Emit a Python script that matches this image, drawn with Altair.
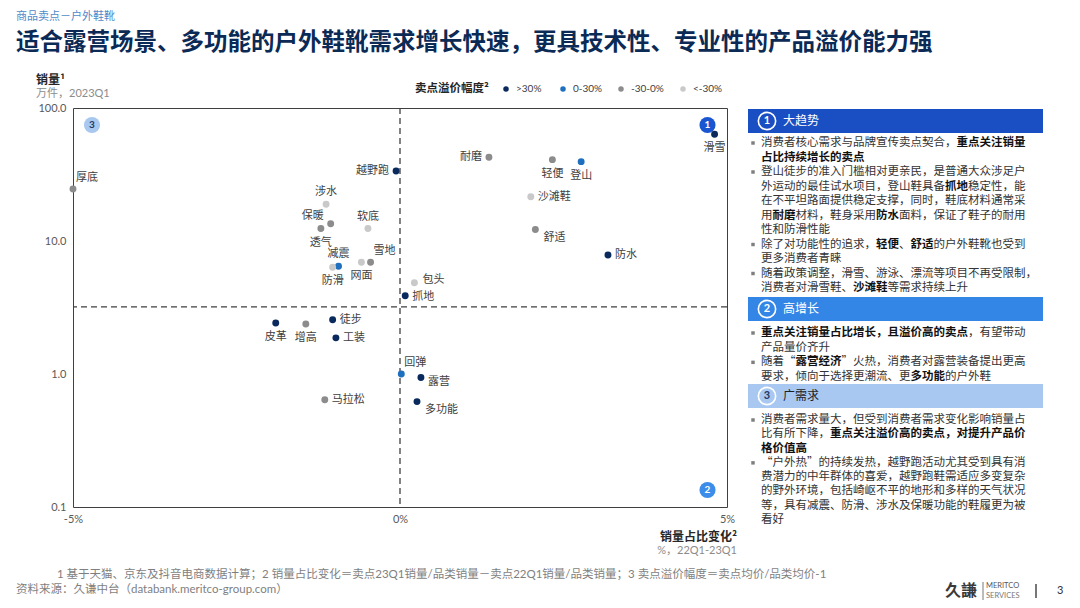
import altair as alt
import pandas as pd

# ------------------------------------------------------------------ data
features = ["滑雪", "厚底", "越野跑", "涉水", "保暖", "透气", "软底", "减震", "防滑",
            "网面", "雪地", "耐磨", "轻便", "登山", "沙滩鞋", "舒适", "防水", "包头",
            "抓地", "皮革", "增高", "徒步", "工装", "马拉松", "回弹", "露营", "多功能"]
share_change = [4.81, -5.0, -0.06, -1.13, -1.06, -1.21, -0.49, -0.94, -1.03,
                -0.59, -0.45, 1.36, 2.33, 2.77, 2.00, 2.07, 3.18, 0.22,
                0.08, -1.90, -1.44, -1.03, -0.98, -1.15, 0.02, 0.32, 0.26]
sales = [63.4, 24.6, 33.6, 18.9, 13.5, 12.4, 12.4, 6.45, 6.34,
         6.92, 6.92, 42.6, 40.9, 39.5, 21.5, 12.2, 7.85, 4.86,
         3.88, 2.42, 2.38, 2.56, 1.87, 0.64, 1.0, 0.94, 0.62]
premium = [">30%", "-30-0%", ">30%", "<-30%", "-30-0%", "-30-0%", "<-30%", "0-30%", "<-30%",
           "<-30%", "-30-0%", "-30-0%", "-30-0%", "0-30%", "<-30%", "-30-0%", ">30%", "<-30%",
           ">30%", ">30%", "-30-0%", ">30%", ">30%", "-30-0%", "0-30%", ">30%", ">30%"]
label_pos = ["b", "tr", "l", "t", "tl", "b", "t", "t", "b",
             "b", "tr", "l", "b", "b", "r", "br", "r", "ru",
             "rd", "b", "b", "r", "r", "r", "tr", "rb", "br"]

premium_levels = [">30%", "0-30%", "-30-0%", "<-30%"]
premium_colors = ["#0A2A5E", "#1F6FBF", "#8C8C8C", "#C9C9C9"]

x_domain = [-5, 5]
y_domain = [0.1, 100]
x_ticks = [-5, 0, 5]
y_ticks = [0.1, 1, 10, 100]
vline_x = [0]
hline_y = [3.2]

subtitle = "商品卖点－户外鞋靴"
title = "适合露营场景、多功能的户外鞋靴需求增长快速，更具技术性、专业性的产品溢价能力强"
y_title = "销量¹"
y_unit = "万件，2023Q1"
x_title = "销量占比变化²"
x_unit = "%，22Q1-23Q1"
legend_title = "卖点溢价幅度²"
footnote = "1  基于天猫、京东及抖音电商数据计算；2  销量占比变化＝卖点23Q1销量/品类销量－卖点22Q1销量/品类销量；3  卖点溢价幅度＝卖点均价/品类均价-1"
source = "资料来源：久谦中台（databank.meritco-group.com）"

badge_labels = ["1", "2", "3"]
header_titles = ["大趋势", "高增长", "广需求"]
panel1 = [
    ("消费者核心需求与品牌宣传卖点契合，**重点关注销量**", True),
    ("**占比持续增长的卖点**", False),
    ("登山徒步的准入门槛相对更亲民，是普通大众涉足户", True),
    ("外运动的最佳试水项目，登山鞋具备**抓地**稳定性，能", False),
    ("在不平坦路面提供稳定支撑，同时，鞋底材料通常采", False),
    ("用**耐磨**材料，鞋身采用**防水**面料，保证了鞋子的耐用", False),
    ("性和防滑性能", False),
    ("除了对功能性的追求，**轻便**、**舒适**的户外鞋靴也受到", True),
    ("更多消费者青睐", False),
    ("随着政策调整，滑雪、游泳、漂流等项目不再受限制，", True),
    ("消费者对滑雪鞋、**沙滩鞋**等需求持续上升", False),
]
panel2 = [
    ("**重点关注销量占比增长，且溢价高的卖点**，有望带动", True),
    ("产品量价齐升", False),
    ("随着“**露营经济**”火热，消费者对露营装备提出更高", True),
    ("要求，倾向于选择更潮流、更**多功能**的户外鞋", False),
]
panel3 = [
    ("消费者需求量大，但受到消费者需求变化影响销量占", True),
    ("比有所下降，**重点关注溢价高的卖点，对提升产品价**", False),
    ("**格价值高**", False),
    ("“户外热”的持续发热，越野跑活动尤其受到具有消", True),
    ("费潜力的中年群体的喜爱，越野跑鞋需适应多变复杂", False),
    ("的野外环境，包括崎岖不平的地形和多样的天气状况", False),
    ("等，具有减震、防滑、涉水及保暖功能的鞋履更为被", False),
    ("看好", False),
]

# ------------------------------------------------------------------ layout
W, H = 654, 399
OX, OY = 73, 108          # plot origin on the page
FONT = "'Noto Sans CJK SC', sans-serif"
LFONT = "Lato, 'Noto Sans CJK SC', sans-serif"

df = pd.DataFrame({"feature": features, "change": share_change, "sales": sales,
                   "premium": premium, "pos": label_pos})

xs = alt.Scale(domain=x_domain, nice=False, zero=False)
ys = alt.Scale(type="log", domain=y_domain, nice=False)

PX = alt.X("px:Q", scale=None, axis=None)
PY = alt.Y("py:Q", scale=None, axis=None)


def pix(rows):
    return pd.DataFrame([{"px": x - OX, "py": y - OY, "t": t} for x, y, t in rows])


def text_layer(rows, size, color, weight="normal", align="left", font=FONT):
    return alt.Chart(pix(rows)).mark_text(
        fontSize=size, color=color, fontWeight=weight, align=align,
        baseline="middle", font=font
    ).encode(x=PX, y=PY, text="t:N")


layers = []

# dashed quadrant lines
dash = dict(color="#3F3F3F", strokeWidth=1.3, strokeDash=[6, 4])
layers.append(alt.Chart(pd.DataFrame({"v": vline_x})).mark_rule(**dash).encode(
    x=alt.X("v:Q", scale=xs, axis=None)))
layers.append(alt.Chart(pd.DataFrame({"h": hline_y})).mark_rule(**dash).encode(
    y=alt.Y("h:Q", scale=ys, axis=None)))

# quadrant badges
badges = pix([(707.5, 125, badge_labels[0]), (707.5, 490, badge_labels[1]), (92, 125, badge_labels[2])])
badges["c"] = ["#1A56CF", "#3B8DE9", "#A9C8F0"]
badges["tc"] = ["#FFFFFF", "#FFFFFF", "#1F3864"]
layers.append(alt.Chart(badges).mark_circle(size=260, opacity=1).encode(
    x=PX, y=PY, color=alt.Color("c:N", scale=None)))
layers.append(alt.Chart(badges).mark_text(fontSize=10, fontWeight="bold", font=LFONT, baseline="middle").encode(
    x=PX, y=PY, text="t:N", color=alt.Color("tc:N", scale=None)))

# scatter points
layers.append(alt.Chart(df).mark_circle(size=48, opacity=1).encode(
    x=alt.X("change:Q", scale=xs, title=None,
            axis=alt.Axis(values=x_ticks, labelExpr="datum.value + '%'", labelFlush=False, labelPadding=6)),
    y=alt.Y("sales:Q", scale=ys, title=None,
            axis=alt.Axis(values=y_ticks, format=".1f", labelPadding=7)),
    color=alt.Color("premium:N", scale=alt.Scale(domain=premium_levels, range=premium_colors), legend=None),
    tooltip=["feature:N", "change:Q", "sales:Q", "premium:N"],
))

# point labels
LABEL_STYLE = {
    "r": dict(align="left", dx=7, dy=0),
    "ru": dict(align="left", dx=8, dy=-3),
    "rd": dict(align="left", dx=7, dy=1),
    "l": dict(align="right", dx=-7, dy=0),
    "t": dict(align="center", dx=0, dy=-12),
    "b": dict(align="center", dx=0, dy=14),
    "tl": dict(align="right", dx=-7, dy=-8),
    "tr": dict(align="left", dx=3, dy=-11),
    "br": dict(align="left", dx=8, dy=8),
    "rb": dict(align="left", dx=7, dy=4),
}
for code, st in LABEL_STYLE.items():
    layers.append(alt.Chart(df).transform_filter(alt.datum.pos == code).mark_text(
        fontSize=11, color="#404040", font=FONT, baseline="middle", **st
    ).encode(x=alt.X("change:Q", scale=xs, axis=None),
             y=alt.Y("sales:Q", scale=ys, axis=None),
             text="feature:N"))

# titles
layers.append(text_layer([(16, 17, subtitle)], 11, "#4F8AC9"))
layers.append(text_layer([(16, 42.5, title)], 23.5, "#0B2A55", weight="bold"))
layers.append(text_layer([(36, 80, y_title)], 12, "#262626", weight="bold"))
layers.append(text_layer([(36, 94, y_unit)], 11, "#8C8C8C", font=LFONT))
layers.append(text_layer([(737, 537, x_title)], 12, "#262626", weight="bold", align="right"))
layers.append(text_layer([(737, 551, x_unit)], 11, "#8C8C8C", align="right", font=LFONT))

# legend (manual)
layers.append(text_layer([(415, 89, legend_title)], 11.5, "#262626", weight="bold"))
leg = pix([(506, 89, premium_levels[0]), (563, 89, premium_levels[1]),
           (621, 89, premium_levels[2]), (683, 89, premium_levels[3])])
leg["c"] = premium_colors
layers.append(alt.Chart(leg).mark_circle(size=30, opacity=1).encode(
    x=PX, y=PY, color=alt.Color("c:N", scale=None)))
layers.append(alt.Chart(leg).mark_text(fontSize=10, color="#404040", font=LFONT, align="left",
                                       baseline="middle", dx=10).encode(x=PX, y=PY, text="t:N"))

# right-hand panel headers
hdr = pd.DataFrame({"x1": [748 - OX] * 3, "x2": [1043 - OX] * 3,
                    "y1": [109 - OY, 297 - OY, 384 - OY], "y2": [133 - OY, 321 - OY, 408 - OY],
                    "c": ["#1A4FC4", "#3385E6", "#A8C8F2"]})
layers.append(alt.Chart(hdr).mark_rect().encode(
    x=alt.X("x1:Q", scale=None, axis=None), x2="x2:Q",
    y=alt.Y("y1:Q", scale=None, axis=None), y2="y2:Q",
    color=alt.Color("c:N", scale=None)))
rings = pix([(767, 121, badge_labels[0]), (767, 309, badge_labels[1]), (767, 396, badge_labels[2])])
rings["tc"] = ["#FFFFFF", "#FFFFFF", "#1F3864"]
layers.append(alt.Chart(rings).mark_point(shape="circle", filled=False, color="white",
                                          strokeWidth=1.6, size=300, opacity=1).encode(x=PX, y=PY))
layers.append(alt.Chart(rings).mark_text(fontSize=11, fontWeight="bold", font=LFONT, baseline="middle").encode(
    x=PX, y=PY, text="t:N", color=alt.Color("tc:N", scale=None)))
ht = pix([(783, 121, header_titles[0]), (783, 309, header_titles[1]), (783, 396, header_titles[2])])
ht["tc"] = ["#FFFFFF", "#FFFFFF", "#1F1F1F"]
layers.append(alt.Chart(ht).mark_text(fontSize=12, font=FONT, align="left", baseline="middle").encode(
    x=PX, y=PY, text="t:N", color=alt.Color("tc:N", scale=None)))

# right-hand panel body text
TX, BX, FS = 761, 753, 11.5
STEP = FS


def line_positions(first, last, n):
    return [first + i * (last - first) / (n - 1) for i in range(n)]


line_y = (line_positions(143, 288, len(panel1)) + line_positions(333, 377, len(panel2))
          + line_positions(420, 520, len(panel3)))
normal_rows, bold_rows, bullet_rows = [], [], []
for y, (markup, bullet) in zip(line_y, panel1 + panel2 + panel3):
    n = 0
    for i, part in enumerate(markup.split("**")):
        if not part:
            continue
        (bold_rows if i % 2 else normal_rows).append((TX + n * STEP, y, part))
        n += len(part)
    if bullet:
        bullet_rows.append((BX, y, ""))
layers.append(text_layer(normal_rows, FS, "#333333"))
layers.append(text_layer(bold_rows, FS, "#111111", weight="bold"))
layers.append(alt.Chart(pix(bullet_rows)).mark_square(size=12, color="#7F7F7F", opacity=1).encode(x=PX, y=PY))

# footnotes
layers.append(text_layer([(57, 575, footnote)], 11.5, "#7F7F7F", font=LFONT))
layers.append(text_layer([(16, 590, source)], 11.5, "#7F7F7F", font=LFONT))

# logo & page number
layers.append(text_layer([(945, 591, "久謙")], 16, "#3A3A3A", weight="bold"))
layers.append(text_layer([(986, 586, "MERITCO")], 7.5, "#555555", font=LFONT))
layers.append(text_layer([(986, 596, "SERVICES")], 7.5, "#777777", font=LFONT))
seps = pd.DataFrame({"x": [983 - OX, 1036 - OX], "y1": [582 - OY, 584 - OY], "y2": [600 - OY, 598 - OY],
                     "w": [0.8, 1.6]})
layers.append(alt.Chart(seps).mark_rule(color="#555555").encode(
    x=alt.X("x:Q", scale=None, axis=None), y=alt.Y("y1:Q", scale=None, axis=None), y2="y2:Q",
    strokeWidth=alt.StrokeWidth("w:Q", scale=None)))
layers.append(text_layer([(1057, 591, "3")], 11, "#333333", font=LFONT))

chart = alt.layer(*layers).resolve_scale(x="independent", y="independent").properties(
    width=W, height=H,
    autosize=alt.AutoSizeParams(type="none"),
    padding={"left": OX - 8, "top": OY - 8, "right": 1064 - (OX - 8) - W, "bottom": 592 - (OY - 8) - H},
).configure(font=FONT).configure_view(stroke="#404040", strokeWidth=1).configure_axis(
    grid=False, domain=False, ticks=False, labelFont=LFONT, labelFontSize=11, labelColor="#595959"
)

chart.save("out.html", embed_options={"renderer": "svg", "actions": False})
